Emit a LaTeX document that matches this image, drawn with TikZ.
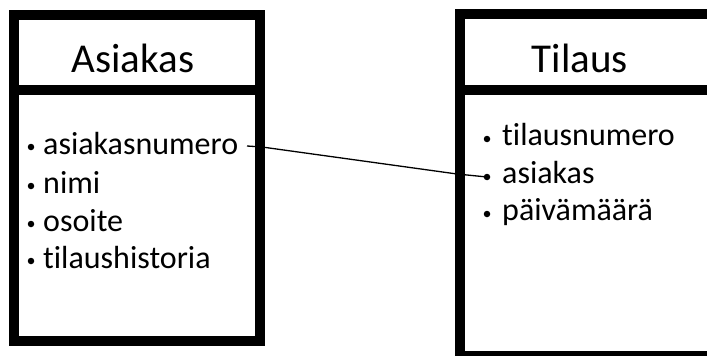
\documentclass[tikz,border=0pt]{standalone}
\usepackage{fontspec}
\setmainfont{Carlito}[Ligatures=NoCommon]
\begin{document}
\begin{tikzpicture}[x=1pt,y=-1pt,
  frame/.style={line width=10pt, draw=black},
  title/.style={font=\fontsize{41}{41}\selectfont, anchor=base, inner sep=0pt},
  item/.style={font=\fontsize{32}{32}\selectfont, anchor=base west, inner sep=0pt},
  dot/.style={circle, fill=black, inner sep=0pt, minimum size=6.5pt},
  link/.style={line width=1.3pt, draw=black}]
\useasboundingbox (0,0) rectangle (707,356);
\clip (0,0) rectangle (707,356);

% attribute bullets
\node[dot] (d1) at (31,147) {};
\node[dot] (d2) at (31,186) {};
\node[dot] (d3) at (31,224) {};
\node[dot] (d4) at (31,261) {};
\node[dot] (e1) at (487,139) {};
\node[dot] (e2) at (487,177) {};
\node[dot] (e3) at (487,214) {};

% relation between customer number and the order's customer field
\coordinate (s0) at (247,146);
\coordinate (s1) at (262,147);
\coordinate (s2) at (457,174);
\draw[link] (s0) -- (s1) -- (s2) -- (e2.center);

% entity frames
\draw[frame] (14,15) rectangle (260,341);
\draw[frame] (14,90) -- (260,90);
\draw[frame] (460,14) rectangle (720,356);
\draw[frame] (460,90) -- (720,90);

% titles
\node[title] (t1) at (133,72) {Asiakas};
\node[title] (t2) at (580,72) {Tilaus};

% attributes
\node[item] (a1) at (43,154) {asiakasnumero};
\node[item] (a2) at (43,193) {nimi};
\node[item] (a3) at (43,231) {osoite};
\node[item] (a4) at (43,268) {tilaushistoria};
\node[item] (b1) at (502,145) {tilausnumero};
\node[item] (b2) at (502,183) {asiakas};
\node[item] (b3) at (502,220) {päivämäärä};
\end{tikzpicture}
\end{document}
